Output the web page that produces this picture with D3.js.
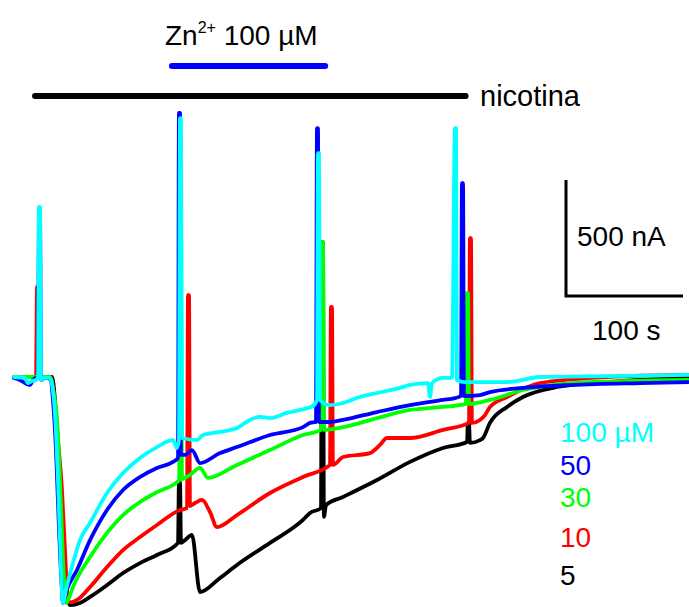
<!DOCTYPE html>
<html><head><meta charset="utf-8">
<script src="https://cdn.jsdelivr.net/npm/d3@7"></script>
<style>body{margin:0;background:#fff}svg{display:block}</style>
</head><body>
<script>
// time in s, current in nA
const cyan100 = [[0,0],[9.4,-4],[12,-26],[15.4,-17],[18.8,-13],[20.5,0],[21.4,733],[22.2,733],[23.1,-13],[25.6,-4],[30.8,-4],[32.5,-34],[35,-155],[37.6,-444],[40.2,-832],[41.9,-974],[44.4,-918],[50.4,-802],[56.4,-703],[65,-629],[79.5,-500],[93.2,-414],[107.7,-349],[122.2,-302],[135.9,-272],[139.3,-306],[141,-272],[141.9,1116],[142.7,1116],[143.6,-263],[156.4,-272],[161.5,-250],[176.1,-237],[190.6,-220],[201.7,-185],[210.3,-172],[218.8,-177],[233.3,-155],[244.4,-142],[255.6,-125],[259,-99],[259.8,965],[260.7,965],[261.5,-99],[270.1,-121],[281.2,-112],[295.7,-86],[310.3,-69],[329.9,-47],[338.5,-34],[353.8,-26],[355.6,-86],[357.3,-26],[366.7,-4],[374.4,-4],[376.9,1073],[377.8,1073],[378.6,-13],[385.5,-22],[392.3,-22],[421.4,-22],[449.6,0],[506.8,4],[576.1,9]];
const blue50 = [[0,-4],[5.1,-13],[9.4,-26],[13.7,-34],[16.2,-13],[18.8,-4],[20.5,0],[21.4,728],[22.2,728],[23.1,-13],[26.5,-4],[30.8,-9],[33.3,-99],[35.9,-315],[38.5,-659],[41,-918],[41.9,-974],[44.4,-927],[53.8,-832],[65,-703],[79.5,-573],[93.2,-487],[107.7,-431],[122.2,-392],[135.9,-366],[140.2,-349],[141,1138],[141.9,1138],[142.7,-336],[146.2,-336],[152.1,-315],[159,-371],[176.1,-328],[190.6,-302],[218.8,-250],[247,-216],[253,-198],[258.1,-194],[259,1073],[259.8,1073],[260.7,-194],[270.1,-194],[281.2,-185],[310.3,-151],[338.5,-121],[366.7,-99],[376.9,-91],[382.1,-82],[382.9,836],[383.8,836],[384.6,-82],[398.3,-78],[406.8,-65],[435,-47],[477.8,-34],[535,-26],[576.1,-22]];
const green30 = [[0,0],[30.8,0],[34.2,-78],[36.8,-185],[39.3,-444],[41.9,-789],[44.4,-974],[46.2,-961],[50.4,-905],[65,-776],[79.5,-672],[93.2,-595],[107.7,-539],[122.2,-496],[139.3,-453],[141.2,-444],[141.9,547],[142.7,547],[143.6,-440],[150.4,-422],[159,-392],[165.8,-435],[190.6,-379],[218.8,-315],[247,-250],[262.4,-228],[263.2,582],[264.1,582],[264.9,-228],[281.2,-216],[310.3,-177],[338.5,-142],[366.7,-129],[386.3,-116],[387.2,362],[388,362],[388.9,-116],[406.8,-99],[435,-56],[477.8,-26],[576.1,-13]];
const red10 = [[0,0],[18.8,0],[19.7,388],[20.3,388],[21.1,0],[30.8,0],[34.2,-78],[37.6,-272],[41,-487],[44.4,-832],[46.2,-970],[49.6,-970],[53.8,-961],[65,-905],[79.5,-819],[93.2,-746],[107.7,-690],[122.2,-638],[141.9,-573],[147.9,-565],[148.7,353],[149.6,353],[150.4,-556],[154.7,-543],[160.7,-530],[167.5,-582],[173.5,-647],[190.6,-595],[218.8,-500],[247,-431],[270.1,-379],[270.9,302],[271.8,302],[272.6,-379],[281.2,-345],[304.3,-328],[312.8,-293],[318.8,-263],[338.5,-263],[366.7,-228],[388.9,-198],[389.7,599],[390.6,599],[391.4,-198],[398.3,-185],[402.6,-164],[406.8,-129],[421.4,-86],[449.6,-26],[506.8,0],[576.1,9]];
const black5 = [[0,0],[32.5,0],[35,-99],[37.6,-315],[41,-659],[44.4,-918],[47.9,-983],[56.4,-974],[65,-948],[79.5,-897],[93.2,-845],[107.7,-802],[122.2,-767],[140.2,-715],[141,-453],[141.9,-453],[142.7,-715],[146.2,-703],[152.1,-681],[159,-927],[176.1,-866],[190.6,-810],[218.8,-715],[247,-616],[253,-586],[262.4,-565],[263.2,582],[264.1,582],[264.9,-603],[266.7,-552],[281.2,-517],[310.3,-444],[338.5,-366],[366.7,-306],[387.2,-280],[388,-198],[388.9,-198],[389.7,-284],[398.3,-272],[400.9,-263],[406.8,-198],[421.4,-129],[435,-86],[464.1,-43],[506.8,-22],[576.1,-4]];

const seriesNames = ["5","10","30","50","100 µM"];
const seriesColors = ["#000000","#ff0000","#00ff00","#0000ff","#00ffff"];
const seriesData = [black5, red10, green30, blue50, cyan100];
const nicotineSpan = [18, 386];
const zincSpan = [135, 266];
const scaleBarTime = 100;   // s
const scaleBarCurrent = 500; // nA

const W = 689, H = 607;
const svg = d3.select("body").append("svg").attr("width", W).attr("height", H);
const x = d3.scaleLinear().domain([0, 576.1]).range([14, 688]);
const y = d3.scaleLinear().domain([0, -500]).range([377, 493]);

const line = d3.line().x(d => x(d[0])).y(d => y(d[1])).curve(d3.curveMonotoneX);

seriesData.forEach((s, i) => {
  svg.append("path").datum(s).attr("d", line)
    .attr("fill", "none").attr("stroke", seriesColors[i])
    .attr("stroke-width", 3.8).attr("stroke-linejoin", "round").attr("stroke-linecap", "round");
});

const font = "Liberation Sans, Arial, sans-serif";

// application bars
svg.append("line").attr("x1", x(nicotineSpan[0])).attr("x2", x(nicotineSpan[1])).attr("y1", 96).attr("y2", 96)
  .attr("stroke", "#000").attr("stroke-width", 6).attr("stroke-linecap", "round");
svg.append("text").attr("x", 480).attr("y", 106).attr("font-family", font).attr("font-size", 29).text("nicotina");
svg.append("line").attr("x1", x(zincSpan[0])).attr("x2", x(zincSpan[1])).attr("y1", 66).attr("y2", 66)
  .attr("stroke", "#0000ff").attr("stroke-width", 6).attr("stroke-linecap", "round");
const zt = svg.append("text").attr("x", 165).attr("y", 45).attr("font-family", font).attr("font-size", 28);
zt.append("tspan").text("Zn");
zt.append("tspan").attr("dy", -12).attr("font-size", 16).text("2+");
zt.append("tspan").attr("dy", 12).text(" 100 µM");

// scale bar
const sbx = 566, sby = 296;
const sbH = y(0) - y(scaleBarCurrent), sbW = x(scaleBarTime) - x(0);
svg.append("path").attr("d", `M${sbx},${sby - sbH}V${sby}H${sbx + sbW}`)
  .attr("fill", "none").attr("stroke", "#000").attr("stroke-width", 3);
svg.append("text").attr("x", 577).attr("y", 246).attr("font-family", font).attr("font-size", 28).text(scaleBarCurrent + " nA");
svg.append("text").attr("x", 592).attr("y", 340).attr("font-family", font).attr("font-size", 28).text(scaleBarTime + " s");

// legend
const legendOrder = [4,3,2,1,0];
const legendY = [442, 475, 507, 547, 585];
legendOrder.forEach((si, k) => {
  svg.append("text").attr("x", 560).attr("y", legendY[k]).attr("font-family", font).attr("font-size", 28)
    .attr("fill", seriesColors[si]).text(seriesNames[si]);
});
</script>
</body></html>
